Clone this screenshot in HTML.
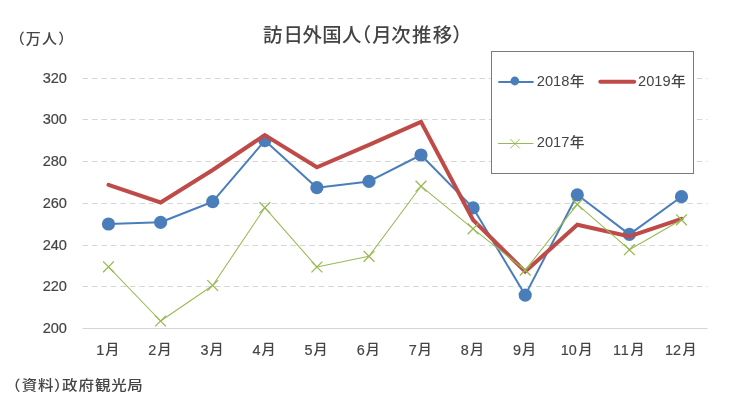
<!DOCTYPE html><html><head><meta charset="utf-8"><title>訪日外国人(月次推移)</title><style>html,body{margin:0;padding:0;background:#fff}svg{display:block}text{font-family:"Liberation Sans","Noto Sans CJK JP",sans-serif;fill:#444}</style></head><body>
<svg width="730" height="412" viewBox="0 0 730 412">
<rect width="730" height="412" fill="#fff"/>
<line x1="82.5" x2="707.5" y1="78.5" y2="78.5" stroke="#d6d6d6" stroke-width="1" stroke-dasharray="5.6 3.85"/>
<line x1="82.5" x2="707.5" y1="119.5" y2="119.5" stroke="#d6d6d6" stroke-width="1" stroke-dasharray="5.6 3.85"/>
<line x1="82.5" x2="707.5" y1="161.5" y2="161.5" stroke="#d6d6d6" stroke-width="1" stroke-dasharray="5.6 3.85"/>
<line x1="82.5" x2="707.5" y1="203.5" y2="203.5" stroke="#d6d6d6" stroke-width="1" stroke-dasharray="5.6 3.85"/>
<line x1="82.5" x2="707.5" y1="245.5" y2="245.5" stroke="#d6d6d6" stroke-width="1" stroke-dasharray="5.6 3.85"/>
<line x1="82.5" x2="707.5" y1="286.5" y2="286.5" stroke="#d6d6d6" stroke-width="1" stroke-dasharray="5.6 3.85"/>
<line x1="82.5" x2="707.5" y1="328.5" y2="328.5" stroke="#d4d4d4" stroke-width="1"/>
<text x="67" y="82.7" font-size="14.6" text-anchor="end" stroke="#444" stroke-width=".18">320</text>
<text x="67" y="124.4" font-size="14.6" text-anchor="end" stroke="#444" stroke-width=".18">300</text>
<text x="67" y="166.1" font-size="14.6" text-anchor="end" stroke="#444" stroke-width=".18">280</text>
<text x="67" y="207.8" font-size="14.6" text-anchor="end" stroke="#444" stroke-width=".18">260</text>
<text x="67" y="249.6" font-size="14.6" text-anchor="end" stroke="#444" stroke-width=".18">240</text>
<text x="67" y="291.3" font-size="14.6" text-anchor="end" stroke="#444" stroke-width=".18">220</text>
<text x="67" y="333.0" font-size="14.6" text-anchor="end" stroke="#444" stroke-width=".18">200</text>
<text x="96.2" y="354.5" font-size="14.4" stroke="#444" stroke-width=".18">1<tspan stroke="none" x="105.3" y="353.5" font-size="13.3" font-weight="500" textLength="14.1" lengthAdjust="spacingAndGlyphs">月</tspan></text>
<text x="148.3" y="354.5" font-size="14.4" stroke="#444" stroke-width=".18">2<tspan stroke="none" x="157.4" y="353.5" font-size="13.3" font-weight="500" textLength="14.1" lengthAdjust="spacingAndGlyphs">月</tspan></text>
<text x="200.4" y="354.5" font-size="14.4" stroke="#444" stroke-width=".18">3<tspan stroke="none" x="209.5" y="353.5" font-size="13.3" font-weight="500" textLength="14.1" lengthAdjust="spacingAndGlyphs">月</tspan></text>
<text x="252.5" y="354.5" font-size="14.4" stroke="#444" stroke-width=".18">4<tspan stroke="none" x="261.5" y="353.5" font-size="13.3" font-weight="500" textLength="14.1" lengthAdjust="spacingAndGlyphs">月</tspan></text>
<text x="304.6" y="354.5" font-size="14.4" stroke="#444" stroke-width=".18">5<tspan stroke="none" x="313.6" y="353.5" font-size="13.3" font-weight="500" textLength="14.1" lengthAdjust="spacingAndGlyphs">月</tspan></text>
<text x="356.7" y="354.5" font-size="14.4" stroke="#444" stroke-width=".18">6<tspan stroke="none" x="365.7" y="353.5" font-size="13.3" font-weight="500" textLength="14.1" lengthAdjust="spacingAndGlyphs">月</tspan></text>
<text x="408.7" y="354.5" font-size="14.4" stroke="#444" stroke-width=".18">7<tspan stroke="none" x="417.8" y="353.5" font-size="13.3" font-weight="500" textLength="14.1" lengthAdjust="spacingAndGlyphs">月</tspan></text>
<text x="460.8" y="354.5" font-size="14.4" stroke="#444" stroke-width=".18">8<tspan stroke="none" x="469.9" y="353.5" font-size="13.3" font-weight="500" textLength="14.1" lengthAdjust="spacingAndGlyphs">月</tspan></text>
<text x="512.9" y="354.5" font-size="14.4" stroke="#444" stroke-width=".18">9<tspan stroke="none" x="522.0" y="353.5" font-size="13.3" font-weight="500" textLength="14.1" lengthAdjust="spacingAndGlyphs">月</tspan></text>
<text x="560.8 568.7" y="354.5" font-size="14.4" stroke="#444" stroke-width=".18">10<tspan stroke="none" x="578.4" y="353.5" font-size="13.3" font-weight="500" textLength="14.1" lengthAdjust="spacingAndGlyphs">月</tspan></text>
<text x="612.9 620.8" y="354.5" font-size="14.4" stroke="#444" stroke-width=".18">11<tspan stroke="none" x="630.5" y="353.5" font-size="13.3" font-weight="500" textLength="14.1" lengthAdjust="spacingAndGlyphs">月</tspan></text>
<text x="665.0 672.9" y="354.5" font-size="14.4" stroke="#444" stroke-width=".18">12<tspan stroke="none" x="682.6" y="353.5" font-size="13.3" font-weight="500" textLength="14.1" lengthAdjust="spacingAndGlyphs">月</tspan></text>
<text x="262.6 283 302.1 321.85 341.6 351.3 371.75 390.95 411.7 432.4 451.8" y="41.9" font-size="19.4" font-weight="500" transform="translate(0.4,0)">訪日外国人（月次推移）</text>
<text x="9.85 25.8 42.05 58.2" y="0" font-size="15" font-weight="500" transform="translate(0,44.1) scale(1,0.95)">（万人）</text>
<text x="5.1 21.75 37.9 54.05 62.05 78.6 95.05 111.2 127.25" y="0" font-size="15.5" font-weight="500" transform="translate(0,390.4) scale(1,0.905)">（資料）政府観光局</text>
<rect x="491.5" y="51.5" width="202" height="122" fill="#fff" stroke="#7a7a7a" stroke-width="1"/>
<polyline points="108.5,224.0 160.6,222.3 212.7,201.7 264.8,140.6 316.9,187.7 369.0,181.4 421.0,155.0 473.1,207.9 525.2,295.1 577.3,194.8 629.4,234.4 681.5,196.7" fill="none" stroke="#4a7ebb" stroke-width="2" stroke-linejoin="round"/>
<circle cx="108.5" cy="224.0" r="6.6" fill="#4a7ebb"/>
<circle cx="160.6" cy="222.3" r="6.6" fill="#4a7ebb"/>
<circle cx="212.7" cy="201.7" r="6.6" fill="#4a7ebb"/>
<circle cx="264.8" cy="140.6" r="6.6" fill="#4a7ebb"/>
<circle cx="316.9" cy="187.7" r="6.6" fill="#4a7ebb"/>
<circle cx="369.0" cy="181.4" r="6.6" fill="#4a7ebb"/>
<circle cx="421.0" cy="155.0" r="6.6" fill="#4a7ebb"/>
<circle cx="473.1" cy="207.9" r="6.6" fill="#4a7ebb"/>
<circle cx="525.2" cy="295.1" r="6.6" fill="#4a7ebb"/>
<circle cx="577.3" cy="194.8" r="6.6" fill="#4a7ebb"/>
<circle cx="629.4" cy="234.4" r="6.6" fill="#4a7ebb"/>
<circle cx="681.5" cy="196.7" r="6.6" fill="#4a7ebb"/>
<polyline points="108.5,184.8 160.6,202.5 212.7,170.0 264.8,135.1 316.9,167.3 369.0,144.9 421.0,121.8 473.1,220.0 525.2,271.6 577.3,224.8 629.4,236.5 681.5,218.8" fill="none" stroke="#be4b48" stroke-width="4" stroke-linejoin="miter" stroke-linecap="round"/>
<polyline points="108.5,266.8 160.6,321.0 212.7,285.5 264.8,207.7 316.9,267.0 369.0,256.3 421.0,186.2 473.1,228.8 525.2,270.1 577.3,204.4 629.4,249.7 681.5,219.8" fill="none" stroke="#98b954" stroke-width="1.05" stroke-linejoin="round"/>
<path d="M103.1 261.4L113.9 272.2M103.1 272.2L113.9 261.4" stroke="#98b954" stroke-width="1.3" fill="none"/>
<path d="M155.2 315.6L166.0 326.4M155.2 326.4L166.0 315.6" stroke="#98b954" stroke-width="1.3" fill="none"/>
<path d="M207.3 280.1L218.1 290.9M207.3 290.9L218.1 280.1" stroke="#98b954" stroke-width="1.3" fill="none"/>
<path d="M259.4 202.3L270.2 213.1M259.4 213.1L270.2 202.3" stroke="#98b954" stroke-width="1.3" fill="none"/>
<path d="M311.5 261.6L322.3 272.4M311.5 272.4L322.3 261.6" stroke="#98b954" stroke-width="1.3" fill="none"/>
<path d="M363.6 250.9L374.4 261.7M363.6 261.7L374.4 250.9" stroke="#98b954" stroke-width="1.3" fill="none"/>
<path d="M415.6 180.8L426.4 191.6M415.6 191.6L426.4 180.8" stroke="#98b954" stroke-width="1.3" fill="none"/>
<path d="M467.7 223.4L478.5 234.2M467.7 234.2L478.5 223.4" stroke="#98b954" stroke-width="1.3" fill="none"/>
<path d="M519.8 264.7L530.6 275.5M519.8 275.5L530.6 264.7" stroke="#98b954" stroke-width="1.3" fill="none"/>
<path d="M571.9 199.0L582.7 209.8M571.9 209.8L582.7 199.0" stroke="#98b954" stroke-width="1.3" fill="none"/>
<path d="M624.0 244.3L634.8 255.1M624.0 255.1L634.8 244.3" stroke="#98b954" stroke-width="1.3" fill="none"/>
<path d="M676.1 214.4L686.9 225.2M676.1 225.2L686.9 214.4" stroke="#98b954" stroke-width="1.3" fill="none"/>
<line x1="498.3" x2="533.6" y1="82" y2="82" stroke="#4a7ebb" stroke-width="2"/><circle cx="514.8" cy="81" r="4.4" fill="#4a7ebb"/>
<text x="536.8" y="86.0" font-size="14.65">2018<tspan x="569.7" y="85.7" font-size="13.8" font-weight="500" textLength="14.8" lengthAdjust="spacingAndGlyphs">年</tspan></text>
<line x1="600.3" x2="634.2" y1="81.8" y2="81.8" stroke="#be4b48" stroke-width="4" stroke-linecap="round"/>
<text x="638.0" y="86.0" font-size="14.65">2019<tspan x="670.9" y="85.7" font-size="13.8" font-weight="500" textLength="14.8" lengthAdjust="spacingAndGlyphs">年</tspan></text>
<line x1="498" x2="533.5" y1="143.5" y2="143.5" stroke="#98b954" stroke-width="1"/><path d="M510.3 139.0L519.7 148.4M510.3 148.4L519.7 139.0" stroke="#98b954" stroke-width="0.95" fill="none"/>
<text x="536.8" y="147.2" font-size="14.65">2017<tspan x="569.7" y="146.9" font-size="13.8" font-weight="500" textLength="14.8" lengthAdjust="spacingAndGlyphs">年</tspan></text>
</svg></body></html>
